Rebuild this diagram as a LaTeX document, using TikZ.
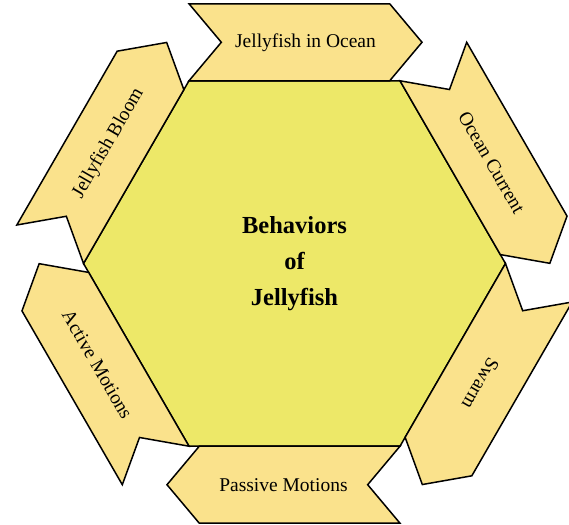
\documentclass[tikz,border=0pt]{standalone}
\usepackage{fontspec}
\setmainfont{Liberation Serif}
\usetikzlibrary{shapes.geometric, shapes.symbols}

\definecolor{hexfill}{RGB}{237,232,104}
\definecolor{chevfill}{RGB}{250,226,140}

\begin{document}
\begin{tikzpicture}[
    x=1pt, y=1pt,
    hexa/.style={regular polygon, regular polygon sides=6, draw=black, line width=1.5pt, fill=hexfill, minimum size=422pt, inner sep=0pt, font=\bfseries\fontsize{24.5}{36}\selectfont, align=center},
    chev/.style={signal, signal pointer angle=100, draw=black, line width=1.5pt, fill=chevfill, minimum width=233pt, minimum height=77pt, inner sep=0pt, font=\fontsize{19.5}{23}\selectfont},
    fwd/.style={chev, signal from=west, signal to=east},
    bwd/.style={chev, signal from=east, signal to=west}
]
\useasboundingbox (-294.5,-260.5) rectangle (274.5,263.5);

% Hexagon
\node[hexa] (hex) at (0,0) {Behaviors\\ of\\ Jellyfish};

% Chevrons, clockwise from the top
\node[fwd] (ocean) at (87.15:221.5) {Jellyfish in Ocean};
\node[fwd, rotate=-60] (current) at (27.15:221.5) {Ocean Current};
\node[fwd, rotate=-120] (swarm) at (-32.85:221.5) {Swarm};
\node[bwd] (passive) at (-92.85:221.5) {Passive Motions};
\node[bwd, rotate=-60] (active) at (-152.85:221.5) {Active Motions};
\node[fwd, rotate=60] (bloom) at (147.15:221.5) {Jellyfish Bloom};
\end{tikzpicture}
\end{document}
